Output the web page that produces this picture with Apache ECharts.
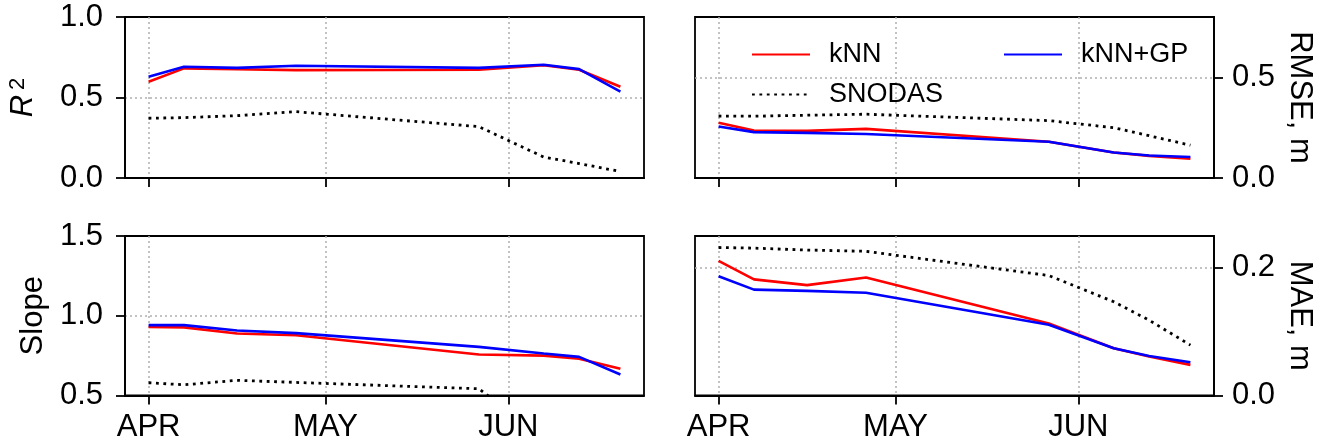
<!DOCTYPE html>
<html>
<head>
<meta charset="utf-8">
<script src="https://cdn.jsdelivr.net/npm/echarts@6/dist/echarts.min.js"></script>
<style>html,body{margin:0;padding:0;background:#fff}#c{width:1326px;height:446px}</style>
</head>
<body>
<div id="c"></div>
<script>
// ---- data ----
const dates = ['2019-04-01','2019-04-07','2019-04-16','2019-04-26','2019-05-27','2019-06-07','2019-06-13','2019-06-20'];
const xTickDates = ['2019-04-01','2019-05-01','2019-06-01'];
const xTickLabels = ['APR','MAY','JUN'];
const xMinDate = '2019-03-28';
const xMaxDate = '2019-06-24';

const knnR2    = [0.598, 0.681, 0.675, 0.670, 0.672, 0.700, 0.672, 0.567];
const gpR2     = [0.629, 0.691, 0.684, 0.697, 0.684, 0.703, 0.676, 0.536];
const snodasR2 = [0.371, 0.375, 0.387, 0.412, 0.319, 0.130, 0.090, 0.040];

const knnSlope    = [0.929, 0.927, 0.889, 0.878, 0.757, 0.750, 0.731, 0.668];
const gpSlope     = [0.941, 0.941, 0.908, 0.891, 0.805, 0.763, 0.742, 0.632];
const snodasSlope = [0.580, 0.567, 0.595, 0.582, 0.542, 0.230, 0.150, 0.100];

const knnRMSE    = [0.275, 0.236, 0.234, 0.244, 0.180, 0.127, 0.110, 0.096];
const gpRMSE     = [0.256, 0.228, 0.224, 0.219, 0.180, 0.127, 0.112, 0.104];
const snodasRMSE = [0.308, 0.307, 0.312, 0.317, 0.285, 0.250, 0.210, 0.163];

const knnMAE    = [0.211, 0.182, 0.173, 0.185, 0.113, 0.074, 0.061, 0.048];
const gpMAE     = [0.187, 0.166, 0.164, 0.161, 0.111, 0.074, 0.062, 0.052];
const snodasMAE = [0.232, 0.231, 0.228, 0.226, 0.188, 0.147, 0.118, 0.079];

const r2Ticks = [0, 0.5, 1.0];
const slopeTicks = [0.5, 1.0, 1.5];
const rmseTicks = [0, 0.5];
const maeTicks = [0, 0.2];

// ---- chart ----
const FONT = 'Liberation Sans';
const DAY = 86400000;
const origin = Date.parse(xTickDates[0]);
const dayOf = s => Math.round((Date.parse(s) - origin) / DAY);
const chart = echarts.init(document.getElementById('c'), null, {renderer: 'canvas'});

const gridLineStyle = {color: '#b0b0b0', width: 1.5, type: [2, 3]};
const tickStyle = {show: true, length: 9, inside: false, lineStyle: {color: '#000', width: 1.8}};
const axisLineStyle = {show: true, onZero: false, lineStyle: {color: '#000', width: 1.8}};

function xAxis(gi, showLabels) {
  const tv = xTickDates.map(dayOf);
  return {
    type: 'value', gridIndex: gi, min: dayOf(xMinDate), max: dayOf(xMaxDate),
    axisLine: axisLineStyle,
    axisTick: Object.assign({}, tickStyle, {customValues: tv}),
    axisLabel: {show: showLabels, customValues: tv, margin: 16, color: '#000', fontFamily: FONT, fontSize: 31,
      formatter: v => { const i = tv.indexOf(Math.round(+v)); return i >= 0 ? xTickLabels[i] : ''; }},
    splitLine: {show: true, showMinLine: true, showMaxLine: true, lineStyle: gridLineStyle}
  };
}
function yAxis(gi, pos, min, max, ticks, name, nameGap, extra) {
  return Object.assign({
    type: 'value', gridIndex: gi, position: pos, min: min, max: max,
    axisLine: axisLineStyle,
    axisTick: Object.assign({}, tickStyle, {customValues: ticks}),
    axisLabel: {customValues: ticks, margin: pos === 'left' ? 22 : 18, color: '#000', fontFamily: FONT, fontSize: 31,
      formatter: v => (+v).toFixed(1)},
    splitLine: {show: true, showMinLine: !(ticks[0] <= min), showMaxLine: !(ticks[ticks.length - 1] >= max),
      lineStyle: gridLineStyle},
    name: name, nameLocation: 'middle', nameGap: nameGap,
    nameRotate: pos === 'left' ? 90 : -90,
    nameTextStyle: {color: '#000', fontFamily: FONT, fontSize: 31}
  }, extra || {});
}
function pairs(vals) { return dates.map((d, i) => [dayOf(d), vals[i]]); }
function ser(name, vals, idx) {
  const s = {
    name: name, type: 'line', xAxisIndex: idx, yAxisIndex: idx, data: pairs(vals),
    symbol: 'none', clip: true, animation: false
  };
  if (name === 'kNN') { s.lineStyle = {color: '#ff0000', width: 2.6}; s.itemStyle = {color: '#ff0000'}; s.z = 3; }
  else if (name === 'kNN+GP') { s.lineStyle = {color: '#0000ff', width: 2.6}; s.itemStyle = {color: '#0000ff'}; s.z = 4; }
  else { s.lineStyle = {color: '#000', width: 2.8, type: [2.8, 4.6]}; s.itemStyle = {color: '#000'}; s.z = 2; }
  return s;
}

const gridBase = {show: true, borderColor: '#000', borderWidth: 1.8, backgroundColor: 'transparent', containLabel: false};
const legendBase = {orient: 'horizontal', itemWidth: 58, itemHeight: 14,
  itemStyle: {opacity: 0},
  textStyle: {color: '#000', fontFamily: FONT, fontSize: 27, padding: [0, 0, 0, 14]}, selectedMode: false};

const option = {
  backgroundColor: '#fff',
  animation: false,
  grid: [
    Object.assign({left: 125, top: 17, width: 519, height: 161}, gridBase),
    Object.assign({left: 695, top: 17, width: 519, height: 161}, gridBase),
    Object.assign({left: 125, top: 236, width: 519, height: 159.5}, gridBase),
    Object.assign({left: 695, top: 236, width: 519, height: 159.5}, gridBase)
  ],
  xAxis: [xAxis(0, false), xAxis(1, false), xAxis(2, true), xAxis(3, true)],
  yAxis: [
    yAxis(0, 'left', 0, 1, r2Ticks, '{i|R}{s|2}', 86, {nameTextStyle: {color: '#000', fontFamily: FONT, fontSize: 31,
      rich: {i: {fontStyle: 'italic', fontSize: 31, fontFamily: FONT}, s: {fontSize: 22, fontFamily: FONT, verticalAlign: 'top', padding: [0,0,10,5]}}}}),
    yAxis(1, 'right', 0, 0.8, rmseTicks, 'RMSE, m', 70),
    yAxis(2, 'left', 0.5, 1.5, slopeTicks, 'Slope', 76),
    yAxis(3, 'right', 0, 0.25, maeTicks, 'MAE, m', 70)
  ],
  legend: [
    Object.assign({}, legendBase, {data: ['kNN'], left: 746, top: 36}),
    Object.assign({}, legendBase, {data: ['kNN+GP'], left: 998, top: 36}),
    Object.assign({}, legendBase, {data: ['SNODAS'], left: 746, top: 76})
  ],
  series: [
    ser('SNODAS', snodasR2, 0), ser('kNN', knnR2, 0), ser('kNN+GP', gpR2, 0),
    ser('SNODAS', snodasRMSE, 1), ser('kNN', knnRMSE, 1), ser('kNN+GP', gpRMSE, 1),
    ser('SNODAS', snodasSlope, 2), ser('kNN', knnSlope, 2), ser('kNN+GP', gpSlope, 2),
    ser('SNODAS', snodasMAE, 3), ser('kNN', knnMAE, 3), ser('kNN+GP', gpMAE, 3)
  ]
};
chart.setOption(option);
</script>
</body>
</html>
